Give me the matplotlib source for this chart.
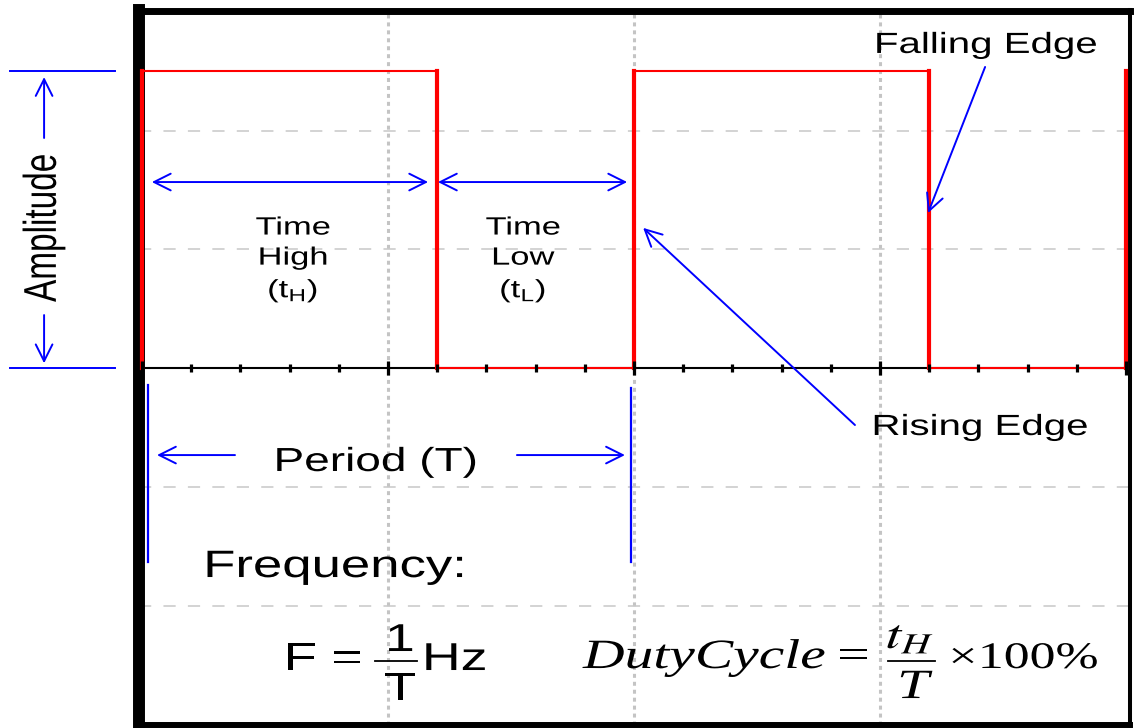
import numpy as np
import matplotlib
matplotlib.use('Agg')
import matplotlib.pyplot as plt
import matplotlib.patheffects as pe
from matplotlib.transforms import Affine2D

plt.rcParams['font.family'] = 'Liberation Sans'
plt.rcParams['mathtext.fontset'] = 'custom'
plt.rcParams['mathtext.rm'] = 'Liberation Sans'
plt.rcParams['mathtext.it'] = 'Liberation Sans:italic'
plt.rcParams['mathtext.bf'] = 'Liberation Sans:bold'

# square wave: edge times and the level that follows each edge
edges = [0.0, 1.2, 2.0, 3.2, 4.0]
levels = [2.5, 0.0, 2.5, 0.0]
amp = 2.5

grid_x = [1, 2, 3]
grid_y = [-2, -1, 1, 2]

BLUE = '#0000ff'
RED = '#ff0000'
SERIF = 'Liberation Serif'


class Stretch(pe.AbstractPathEffect):
    """widen text horizontally around its own centre (the source image is stretched)"""
    def __init__(self, sx):
        super().__init__()
        self.sx = sx

    def draw_path(self, renderer, gc, tpath, affine, rgbFace=None):
        bb = tpath.get_extents(affine)
        cx = (bb.x0 + bb.x1) / 2
        a = affine + Affine2D().translate(-cx, 0).scale(self.sx, 1).translate(cx, 0)
        renderer.draw_path(gc, tpath, a, rgbFace)


WIDE = [Stretch(1.38)]

fig = plt.figure(figsize=(11.34, 7.28), dpi=100)
ax = fig.add_axes([139 / 1134, 3 / 728, 991 / 1134, 714.5 / 728])
ax.set_xlim(-0.0122, 4.016)
ax.set_ylim(-3.006, 3.0105)
ax.set_xticks([])
ax.set_yticks([])
for side, w in [('left', 8.6), ('top', 5), ('right', 2.9), ('bottom', 4.3)]:
    ax.spines[side].set_linewidth(w)
    ax.spines[side].set_color('black')

# grid
for gx in grid_x:
    ax.axvline(gx, color='#c4c4c4', lw=2.2, ls=(0, (1.3, 1.3)), zorder=0)
for gy in grid_y:
    ax.axhline(gy, color='#c8c8c8', lw=1.1, ls=(0, (8, 8)), zorder=0)

# time axis with ticks
ax.plot([0, 4], [0, 0], color='black', lw=1.5, zorder=2)
ticks = np.round(np.arange(0, 4.01, 0.2), 1)
for t in ticks:
    h = 0.06 if abs(t - round(t)) < 1e-6 else 0.035
    ax.plot([t, t], [-h, h], color='black', lw=2.3, solid_capstyle='butt', zorder=4)

# square wave
for i in range(len(levels)):
    ax.plot([edges[i], edges[i + 1]], [levels[i], levels[i]], color=RED, lw=1.5, zorder=3)
for e in edges:
    ax.plot([e, e], [0, amp], color=RED, lw=3, zorder=3)


def arrow(tail, head, style='->'):
    ax.annotate('', xy=head, xytext=tail, annotation_clip=False,
                arrowprops=dict(arrowstyle=style + ',head_length=0.6,head_width=0.3',
                                color=BLUE, lw=1.4, shrinkA=0, shrinkB=0,
                                mutation_scale=20))


def label(x, y, s, size, **kw):
    kw.setdefault('ha', 'center')
    kw.setdefault('va', 'baseline')
    return ax.text(x, y, s, fontsize=size, path_effects=WIDE, **kw)


# amplitude marker (outside the box)
for lv in [amp, 0]:
    ax.plot([-0.537, -0.110], [lv, lv], color=BLUE, lw=1.4, clip_on=False)
arrow((-0.398, 1.937), (-0.398, 2.45))
arrow((-0.398, 0.446), (-0.398, 0.04))
label(-0.398, 1.18, 'Amplitude', 24, rotation=90, va='center', clip_on=False)

# time high / low
arrow((0.04, 1.566), (1.163, 1.566), '<->')
arrow((1.203, 1.566), (1.972, 1.566), '<->')
label(0.614, 0.91, 'Time\nHigh\n($\\mathregular{t_H}$)', 18, va='center', linespacing=1.32)
label(1.549, 0.91, 'Time\nLow\n($\\mathregular{t_L}$)', 18, va='center', linespacing=1.32)

# edges
arrow((2.898, -0.48), (2.037, 1.18))
label(3.407, -0.564, 'Rising Edge', 21)
arrow((3.427, 2.535), (3.195, 1.305))
label(3.431, 2.653, 'Falling Edge', 21)

# period
ax.plot([0.024, 0.024], [-0.143, -1.634], color=BLUE, lw=1.6)
ax.plot([1.988, 1.988], [-0.168, -1.634], color=BLUE, lw=1.6)
arrow((0.378, -0.733), (0.061, -0.733))
arrow((1.524, -0.733), (1.963, -0.733))
label(0.951, -0.867, 'Period (T)', 24)

# frequency formula
label(0.785, -1.76, 'Frequency:', 27.5)
label(0.738, -2.543, 'F =', 28)
label(1.049, -2.383, '1', 28)
ax.plot([0.947, 1.118], [-2.467, -2.467], color='black', lw=1.3)
label(1.049, -2.796, 'T', 28)
label(1.272, -2.543, 'Hz', 28)

# duty cycle formula
label(2.285, -2.526, 'DutyCycle', 30, family=SERIF, style='italic')
label(2.891, -2.526, '=', 30, family=SERIF)
label(3.122, -2.358, '$t_H$', 30, math_fontfamily='stix')
ax.plot([3.033, 3.224], [-2.467, -2.467], color='black', lw=1.3)
label(3.138, -2.779, 'T', 30, family=SERIF, style='italic')
label(3.337, -2.526, '\u00d7', 27, family=SERIF)
label(3.644, -2.526, '100%', 27, family=SERIF)

fig.savefig('out.png', dpi=100)
